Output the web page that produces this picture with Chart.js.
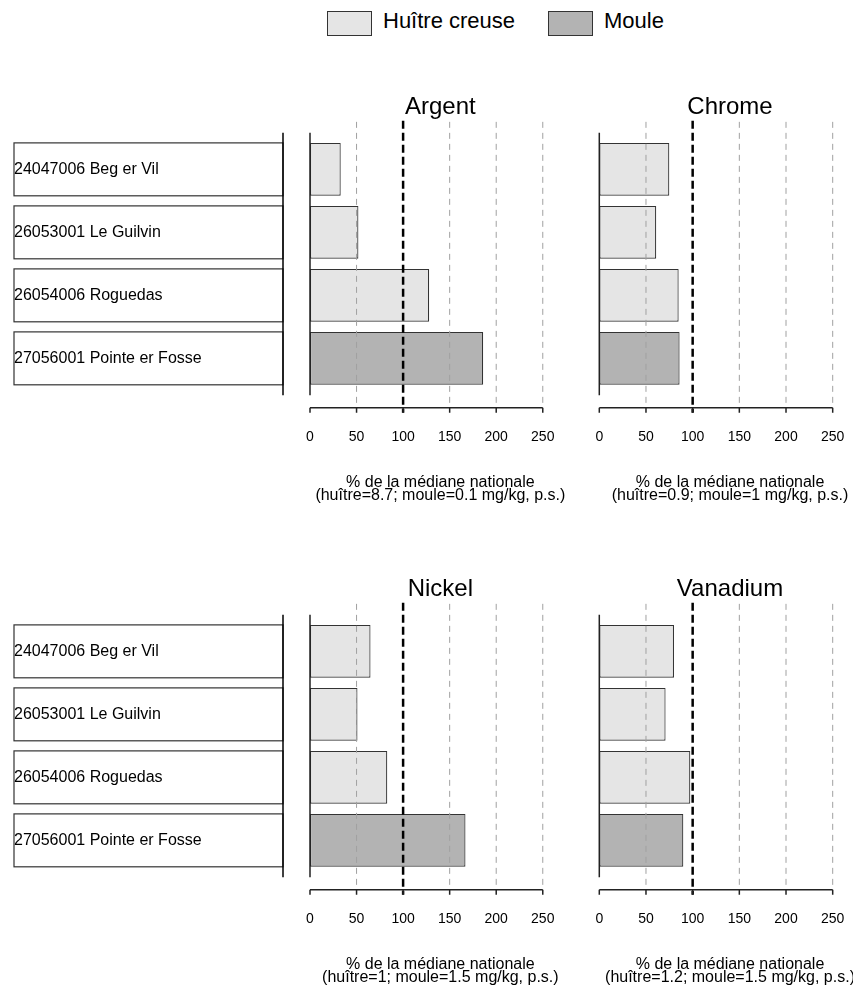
<!DOCTYPE html>
<html>
<head>
<meta charset="utf-8">
<script src="https://cdn.jsdelivr.net/npm/chart.js@4.4.0/dist/chart.umd.min.js"></script>
<style>
  body { margin: 0; width: 853px; height: 991px; overflow: hidden; background: #fff; position: relative;
         font-family: "Liberation Sans", Arial, sans-serif; }
  .panel { position: absolute; }
  .key { position: absolute; top: 11px; width: 45px; height: 25px; box-sizing: border-box; border: 1px solid #333; }
  .key-label { position: absolute; top: 9.7px; font-size: 22px; line-height: 22px; color: #000; white-space: nowrap; }
</style>
</head>
<body>
<div id="legend"></div>
<div class="panel" style="left:0;top:90px;width:580px;height:430px"><canvas id="argent"></canvas></div>
<div class="panel" style="left:580px;top:90px;width:290px;height:430px"><canvas id="chrome"></canvas></div>
<div class="panel" style="left:0;top:572px;width:580px;height:430px"><canvas id="nickel"></canvas></div>
<div class="panel" style="left:580px;top:572px;width:290px;height:430px"><canvas id="vanadium"></canvas></div>
<script>
const sites = [
    '24047006 Beg er Vil',
    '26053001 Le Guilvin',
    '26054006 Roguedas',
    '27056001 Pointe er Fosse'
];
const siteSpecies = ['Huître creuse', 'Huître creuse', 'Huître creuse', 'Moule'];
const speciesNames = ['Huître creuse', 'Moule'];
const speciesColors = ['#e5e5e5', '#b3b3b3'];

// % de la médiane nationale
const argent = [33, 52, 128, 186];
const chrome = [75, 61, 85, 86];
const nickel = [65, 51, 83, 167];
const vanadium = [80, 71, 97.5, 90];

const tickValues = [0, 50, 100, 150, 200, 250];
const medianLine = 100;
const xTitle = '% de la médiane nationale';

Chart.defaults.font.family = '"Liberation Sans", Arial, sans-serif';
Chart.defaults.color = '#000';

// legend at the top of the page
const legend = document.getElementById('legend');
const keyLeft = [327, 548];
speciesNames.forEach((name, i) => {
    const box = document.createElement('div');
    box.className = 'key';
    box.style.left = keyLeft[i] + 'px';
    box.style.background = speciesColors[i];
    legend.appendChild(box);
    const txt = document.createElement('div');
    txt.className = 'key-label';
    txt.style.left = (keyLeft[i] + 56) + 'px';
    txt.textContent = name;
    legend.appendChild(txt);
});

// dashed reference lines, axis lines, site boxes and panel title
const panelDecor = {
    id: 'panelDecor',
    beforeDraw(chart, args, opts) {
        if (!opts.siteBoxes) return;
        const {ctx, chartArea: a} = chart;
        const left = chart.scales.y.left;
        const right = a.left - 27;
        ctx.save();
        ctx.fillStyle = '#fff';
        ctx.strokeStyle = '#333';
        ctx.lineWidth = 1.2;
        chart.getDatasetMeta(0).data.forEach(bar => {
            ctx.fillRect(left, bar.y - bar.height / 2, right - left, bar.height);
            ctx.strokeRect(left, bar.y - bar.height / 2, right - left, bar.height);
        });
        ctx.strokeStyle = '#000';
        ctx.lineWidth = 1.5;
        ctx.beginPath();
        ctx.moveTo(right, a.top - 5.2);
        ctx.lineTo(right, a.bottom + 5.4);
        ctx.stroke();
        ctx.restore();
    },
    afterDatasetsDraw(chart, args, opts) {
        const {ctx, chartArea: a, scales: {x}} = chart;
        const axisY = a.bottom + 18;
        ctx.save();
        tickValues.forEach(v => {
            if (v === 0) return;
            const px = x.getPixelForValue(v);
            ctx.beginPath();
            if (v === medianLine) {
                ctx.strokeStyle = '#000';
                ctx.lineWidth = 2.5;
                ctx.setLineDash([8, 4]);
                ctx.moveTo(px, a.top - 17);
                ctx.lineTo(px, axisY + 5);
            } else {
                ctx.strokeStyle = '#a0a0a0';
                ctx.lineWidth = 1;
                ctx.setLineDash([6, 5]);
                ctx.moveTo(px, a.top - 16);
                ctx.lineTo(px, axisY);
            }
            ctx.stroke();
        });
        ctx.setLineDash([]);
        ctx.strokeStyle = '#222';
        ctx.lineWidth = 1.5;
        ctx.beginPath();
        ctx.moveTo(a.left, a.top - 5.2);
        ctx.lineTo(a.left, a.bottom + 5.4);
        const x0 = x.getPixelForValue(tickValues[0]);
        const x1 = x.getPixelForValue(tickValues[tickValues.length - 1]);
        ctx.moveTo(x0, axisY);
        ctx.lineTo(x1, axisY);
        tickValues.forEach(v => {
            const px = x.getPixelForValue(v);
            ctx.moveTo(px, axisY);
            ctx.lineTo(px, axisY + 5);
        });
        ctx.stroke();

        ctx.fillStyle = '#000';
        ctx.font = '24px "Liberation Sans", Arial, sans-serif';
        ctx.textAlign = 'center';
        ctx.textBaseline = 'alphabetic';
        ctx.fillText(opts.title, (a.left + a.right) / 2, a.top - 23.85);
        ctx.restore();
    }
};

function panel(id, name, values, units, showSites) {
    return new Chart(document.getElementById(id), {
        type: 'bar',
        data: {
            labels: sites,
            datasets: [{
                label: name,
                data: values,
                backgroundColor: siteSpecies.map(s => speciesColors[speciesNames.indexOf(s)]),
                borderColor: '#333',
                borderWidth: 1.2,
                borderSkipped: false,
                barPercentage: 0.84,
                categoryPercentage: 1
            }]
        },
        options: {
            indexAxis: 'y',
            responsive: true,
            maintainAspectRatio: false,
            animation: false,
            layout: {
                padding: {top: 47.85, bottom: 0, left: showSites ? 14 : 19.3, right: 9.3}
            },
            scales: {
                x: {
                    type: 'linear',
                    min: 0,
                    max: 280,
                    afterBuildTicks: axis => { axis.ticks = tickValues.map(v => ({value: v})); },
                    afterFit: axis => {
                        axis.height = 130.15;
                        axis.paddingLeft = 0;
                        axis.paddingRight = 0;
                    },
                    grid: {display: false, drawTicks: false},
                    border: {display: false},
                    ticks: {padding: 38.6, maxRotation: 0, font: {size: 14}},
                    title: {
                        display: true,
                        text: [xTitle, units],
                        font: {size: 16, lineHeight: 0.8},
                        padding: {top: 0, bottom: 17.8}
                    }
                },
                y: {
                    display: showSites,
                    afterFit: axis => { axis.width = showSites ? 296 : 0; },
                    grid: {display: false, drawTicks: false},
                    border: {display: false},
                    ticks: {crossAlign: 'far', font: {size: 16}}
                }
            },
            plugins: {
                legend: {display: false},
                tooltip: {enabled: false},
                panelDecor: {title: name, siteBoxes: showSites}
            }
        },
        plugins: [panelDecor]
    });
}

panel('argent', 'Argent', argent, '(huître=8.7; moule=0.1 mg/kg, p.s.)', true);
panel('chrome', 'Chrome', chrome, '(huître=0.9; moule=1 mg/kg, p.s.)', false);
panel('nickel', 'Nickel', nickel, '(huître=1; moule=1.5 mg/kg, p.s.)', true);
panel('vanadium', 'Vanadium', vanadium, '(huître=1.2; moule=1.5 mg/kg, p.s.)', false);
</script>
</body>
</html>
